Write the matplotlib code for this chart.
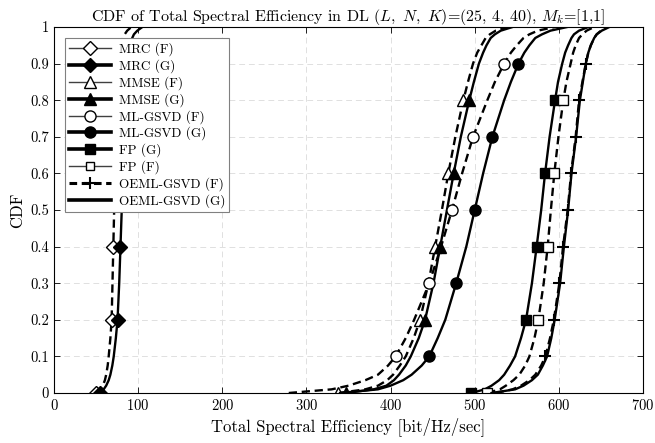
import matplotlib
matplotlib.use('Agg')
import matplotlib.pyplot as plt
from matplotlib.lines import Line2D

plt.rcParams['font.family'] = 'serif'
plt.rcParams['font.serif'] = ['cmr10']
plt.rcParams['mathtext.fontset'] = 'cm'
plt.rcParams['axes.formatter.use_mathtext'] = True

# CDF levels shared by all curves
cdf = [0, 0.01, 0.02, 0.035, 0.05, 0.075, 0.1, 0.15, 0.2, 0.3, 0.4, 0.5, 0.6, 0.7,
       0.8, 0.85, 0.9, 0.93, 0.95, 0.97, 0.98, 0.99, 1.0]

# spectral efficiency read at each CDF level [bit/Hz/sec]
mrc_f = [50, 55, 58, 60.5, 62, 63.8, 65, 67, 68.5, 69.5, 70.5, 71.5, 72.5, 73.5,
         75, 76, 77, 78.3, 80, 82, 84, 87, 92]
mrc_g = [55, 59, 62, 65, 67, 69.3, 71, 73.5, 75.5, 77.5, 79, 80.5, 82, 83.5,
         85, 86.3, 88, 89.5, 91, 93, 95, 99, 105]
mmse_f = [338, 370, 385, 396, 403, 411, 418, 427.5, 435, 445, 453, 461, 468.6, 477,
          486.5, 492, 498, 503, 508, 513, 518, 525, 540]
mmse_g = [347, 380, 395, 404, 410, 418, 424, 433.5, 441, 451, 459, 467, 475, 483.5,
          493.5, 499, 505, 510, 514, 519, 524, 531, 545]
mlgsvd_f = [279, 330, 350, 370, 385, 397, 406, 418, 428, 446, 460, 473, 485, 498,
            515, 524, 535, 543, 550, 558, 565, 575, 595]
mlgsvd_g = [340, 385, 400, 415, 425, 437, 446, 456, 465, 478, 490, 500, 510, 521,
            535, 543, 552, 559, 565, 572, 580, 590, 610]
fp_g = [496, 512, 520, 529, 535, 542, 548, 555, 561, 568, 573.6, 579, 583.6, 589,
        595.5, 599, 604, 607.5, 611, 615, 618, 624, 635]
fp_f = [515, 530, 537, 546, 553, 560, 565, 571, 575.6, 582, 586.7, 590.5, 594.6, 599.5,
        605.3, 609, 614, 617, 620, 624, 628, 633, 642]
oeml_f = [525, 545, 555, 565, 572, 579, 584, 589.5, 594, 600.6, 605, 610.5, 614.5, 620,
          624, 628, 632, 635, 638, 642, 645, 650, 658]
oeml_g = [520, 548, 558, 568, 575, 581, 586, 591, 595, 601.5, 606, 611, 615, 620.5,
          625, 628.5, 632, 635, 638, 642, 645, 651, 660]

labels = ['MRC (F)', 'MRC (G)', 'MMSE (F)', 'MMSE (G)', 'ML-GSVD (F)', 'ML-GSVD (G)',
          'FP (G)', 'FP (F)', 'OEML-GSVD (F)', 'OEML-GSVD (G)']

# marker positions (indices into cdf)
even_marks = [0, 8, 10, 12, 14]
odd_marks = [6, 9, 11, 13, 16]
plus_marks = [6, 8, 9, 10, 11, 12, 13, 14, 16]

fig = plt.figure(figsize=(6.55, 4.43), dpi=100)
ax = fig.add_axes([54/655, 50/443, 589/655, 366/443])

lw = 1.7
ms = 8
dash = (0, (3.5, 2))
ax.plot(mrc_f, cdf, 'k', ls=dash, lw=lw, marker='D', ms=7, mfc='w', mec='k', markevery=even_marks)
ax.plot(mrc_g, cdf, 'k-', lw=lw, marker='D', ms=7, mfc='k', mec='k', markevery=even_marks)
ax.plot(mmse_f, cdf, 'k', ls=dash, lw=lw, marker='^', ms=ms + 1, mfc='w', mec='k', markevery=even_marks)
ax.plot(mmse_g, cdf, 'k-', lw=lw, marker='^', ms=ms + 1, mfc='k', mec='k', markevery=even_marks)
ax.plot(mlgsvd_f, cdf, 'k', ls=dash, lw=lw, marker='o', ms=ms, mfc='w', mec='k', markevery=odd_marks)
ax.plot(mlgsvd_g, cdf, 'k-', lw=lw, marker='o', ms=ms, mfc='k', mec='k', markevery=odd_marks)
ax.plot(fp_g, cdf, 'k-', lw=lw, marker='s', ms=7, mfc='k', mec='k', markevery=even_marks)
ax.plot(fp_f, cdf, 'k', ls=dash, lw=lw, marker='s', ms=7, mfc='w', mec='k', markevery=even_marks)
ax.plot(oeml_g, cdf, 'k-', lw=lw)
ax.plot(oeml_f, cdf, 'k', ls=dash, lw=lw, marker='+', ms=ms, mew=1.5, markevery=plus_marks)

ax.set_xlim(0, 700)
ax.set_ylim(0, 1)
ax.set_xticks(range(0, 701, 100))
yt = [i / 10 for i in range(11)]
ax.set_yticks(yt)
ax.set_yticklabels(['0'] + ['%.1f' % v for v in yt[1:-1]] + ['1'])
ax.tick_params(direction='in', top=True, right=True, labelsize=10.5, length=4, width=0.6)
ax.grid(True, ls=(0, (6, 4)), color='#e0e0e0', lw=0.7)
ax.set_axisbelow(True)
for s in ax.spines.values():
    s.set_linewidth(0.8)

ax.set_xlabel('Total Spectral Efficiency [bit/Hz/sec]', fontsize=12, labelpad=3)
ax.set_ylabel('CDF', fontsize=12, labelpad=4)
ax.set_title(r'CDF of Total Spectral Efficiency in DL $(L,\ N,\ K)$=(25, 4, 40), $M_k$=[1,1]',
             fontsize=11.5, pad=4)

thin = dict(color='#404040', lw=1.0)
thick = dict(color='k', lw=2.6)
handles = [
    Line2D([], [], marker='D', ms=7, mfc='w', mec='k', **thin),
    Line2D([], [], marker='D', ms=7, mfc='k', mec='k', **thick),
    Line2D([], [], marker='^', ms=9, mfc='w', mec='k', **thin),
    Line2D([], [], marker='^', ms=9, mfc='k', mec='k', **thick),
    Line2D([], [], marker='o', ms=8, mfc='w', mec='k', **thin),
    Line2D([], [], marker='o', ms=8, mfc='k', mec='k', **thick),
    Line2D([], [], marker='s', ms=7, mfc='k', mec='k', **thick),
    Line2D([], [], marker='s', ms=6, mfc='w', mec='k', **thin),
    Line2D([], [], marker='+', ms=8, mew=1.5, ls=(0, (2.5, 1.5)), color='k', lw=2.2),
    Line2D([], [], ls='-', color='k', lw=2.6),
]
leg = ax.legend(handles, labels, loc='upper left', bbox_to_anchor=(0.018, 0.97),
                fontsize=9.5, frameon=True, fancybox=False, framealpha=1,
                edgecolor='#808080', borderpad=0.3, labelspacing=0.24,
                handlelength=3.2, handletextpad=0.6, borderaxespad=0)
leg.get_frame().set_linewidth(0.8)

fig.savefig('out.png', dpi=100)
